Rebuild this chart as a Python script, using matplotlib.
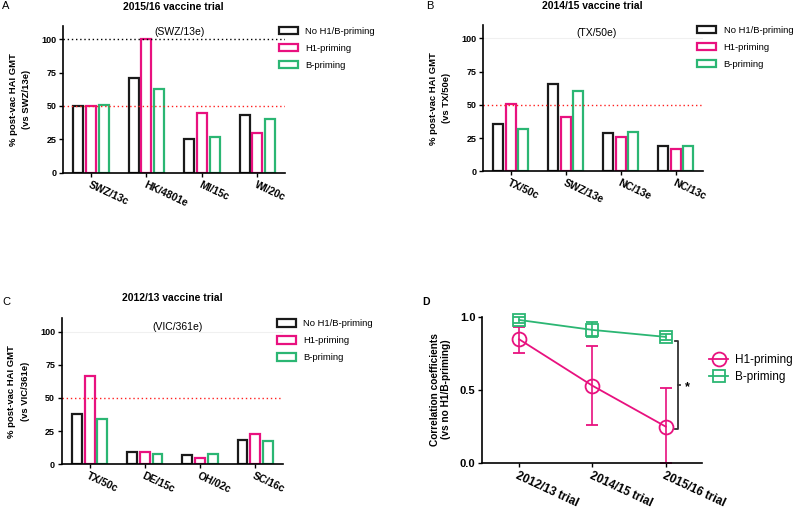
import numpy as np
import matplotlib
matplotlib.use("Agg")
from matplotlib import pyplot as plt
from matplotlib.patches import Patch
from matplotlib.lines import Line2D

plt.rcParams['font.family'] = ['Liberation Sans', 'DejaVu Sans']

# colori
c_no = "#1a1a1a"
c_h1 = "#e8117f"
c_b = "#2bb673"

series = ["No H1/B-priming", "H1-priming", "B-priming"]

# pannello A 2015/16
strainsA = ["SWZ/13c", "HK/4801e", "MI/15c", "WI/20c"]
noA = [50, 71, 25, 43]
h1A = [50, 100, 44.5, 29.5]
bA = [51, 62.5, 26.5, 40]

# pannello B 2014/15
strainsB = ["TX/50c", "SWZ/13e", "NC/13e", "NC/13c"]
noB = [35.5, 65.5, 28.5, 19.3]
h1B = [50.3, 40.5, 25.5, 16.5]
bB = [31.5, 60.5, 29.3, 19.3]

# pannello C 2012/13
strainsC = ["TX/50c", "DE/15c", "OH/02c", "SC/16c"]
noC = [38.2, 9, 7, 18]
h1C = [66.3, 9, 5, 22.5]
bC = [34.4, 8, 8, 17.3]

# pannello D
trials = ["2012/13 trial", "2014/15 trial", "2015/16 trial"]
h1_r = [0.845, 0.527, 0.247]
h1_lo = [0.75, 0.258, 0.0]
h1_hi = [0.93, 0.80, 0.514]
b_r = [0.977, 0.909, 0.861]
b_lo = [0.955, 0.86, 0.84]
b_hi = [0.995, 0.96, 0.88]

fig = plt.figure(figsize=(8, 5.09), dpi=100)


def bar_panel(rect, strains, no, h1, b, ylab, ref, ref_xy, black100):
    ax = fig.add_axes(rect)
    x = np.arange(len(strains))
    w = 0.18
    off = 0.23
    for vals, dx, col in [(no, -off, c_no), (h1, 0, c_h1), (b, off, c_b)]:
        ax.bar(x + dx, vals, w, facecolor="white", edgecolor=col, linewidth=1.6)
    ax.axhline(50, color="#ff2020", ls=(0, (1, 2)), lw=1)
    if black100:
        ax.axhline(100, color="black", ls=(0, (1, 2)), lw=1)
    else:
        ax.axhline(100, color="#f0f0f0", lw=0.8, zorder=0)
    ax.set_xlim(-0.5, 3.5)
    ax.set_ylim(0, 110)
    ax.set_yticks([0, 25, 50, 75, 100])
    ax.set_xticks(x)
    ax.set_xticklabels(strains, rotation=-25, ha="left", va="top",
                       rotation_mode="anchor", fontsize=7.5, fontweight="bold")
    for t in ax.get_yticklabels():
        t.set_fontweight("bold")
        t.set_fontsize(6.5)
    ax.tick_params(length=3, width=1, pad=2)
    ax.spines["top"].set_visible(False)
    ax.spines["right"].set_visible(False)
    ax.spines["left"].set_linewidth(1.2)
    ax.spines["bottom"].set_linewidth(1.2)
    ax.set_ylabel(ylab, fontsize=6.8, fontweight="bold", labelpad=7, linespacing=1.7)
    ax.text(ref_xy[0], ref_xy[1], ref, ha="center", va="center", fontsize=7.5)
    handles = [Patch(facecolor="white", edgecolor=c, linewidth=1.6, label=s)
               for c, s in zip([c_no, c_h1, c_b], series)]
    ax.legend(handles=handles, loc="upper left", bbox_to_anchor=(0.955, 1.02),
              frameon=False, fontsize=6.8, handlelength=2.0, handleheight=0.8,
              labelspacing=0.85, handletextpad=0.8, borderaxespad=0)
    return ax


bar_panel([0.079, 0.661, 0.2775, 0.288], strainsA, noA, h1A, bA,
          "% post-vac HAI GMT\n(vs SWZ/13e)", "(SWZ/13e)", (1.6, 105.5), True)
bar_panel([0.604, 0.6635, 0.275, 0.2875], strainsB, noB, h1B, bB,
          "% post-vac HAI GMT\n(vs TX/50e)", "(TX/50e)", (1.57, 103.7), False)
bar_panel([0.0775, 0.088, 0.276, 0.2866], strainsC, noC, h1C, bC,
          "% post-vac HAI GMT\n(vs VIC/361e)", "(VIC/361e)", (1.59, 103.8), False)

# pannello D
axD = fig.add_axes([0.603, 0.091, 0.275, 0.287])
xd = np.arange(len(trials))
h1_err = [np.array(h1_r) - np.array(h1_lo), np.array(h1_hi) - np.array(h1_r)]
b_err = [np.array(b_r) - np.array(b_lo), np.array(b_hi) - np.array(b_r)]
axD.errorbar(xd, h1_r, yerr=h1_err, color=c_h1, marker="o", markersize=10,
             mfc="none", mew=1.3, lw=1.3, capsize=4, elinewidth=1.2, clip_on=False,
             label="H1-priming")
axD.errorbar(xd, b_r, yerr=b_err, color=c_b, marker="s", markersize=9,
             mfc="none", mew=1.3, lw=1.3, capsize=4, elinewidth=1.2, clip_on=False,
             label="B-priming")
axD.set_xlim(-0.5, 2.5)
axD.set_ylim(0, 1.0)
axD.set_yticks([0.0, 0.5, 1.0])
axD.set_yticklabels(["0.0", "0.5", "1.0"], fontsize=8, fontweight="bold")
axD.set_xticks(xd)
axD.set_xticklabels(trials, rotation=-25, ha="left", va="top",
                    rotation_mode="anchor", fontsize=8.5, fontweight="bold")
axD.tick_params(length=3, width=1, pad=2)
axD.spines["top"].set_visible(False)
axD.spines["right"].set_visible(False)
axD.spines["left"].set_linewidth(1.2)
axD.spines["bottom"].set_linewidth(1.2)
axD.set_ylabel("Correlation coefficients\n(vs no H1/B-priming)", fontsize=7.3,
               fontweight="bold", labelpad=6)
# parentesi significativita
bx = 2.17
axD.plot([bx - 0.04, bx, bx, bx - 0.04], [0.836, 0.836, 0.228, 0.228],
         color="#333333", lw=1.3, clip_on=False)
axD.plot([bx, bx + 0.03], [0.532, 0.532], color="#333333", lw=1.3, clip_on=False)
axD.text(bx + 0.13, 0.52, "*", ha="center", va="center", fontsize=9, fontweight="bold")
handlesD = [Line2D([], [], color=c_h1, marker="o", mfc="none", markersize=10, mew=1.3, lw=1.3),
            Line2D([], [], color=c_b, marker="s", mfc="none", markersize=9, mew=1.3, lw=1.3)]
axD.legend(handlesD, ["H1-priming", "B-priming"], loc="center left",
           bbox_to_anchor=(1.01, 0.645), frameon=False, fontsize=8.5,
           handlelength=1.6, labelspacing=0.4, handletextpad=0.6, borderaxespad=0)

# titoli e lettere
fig.text(0.217, 0.987, "2015/16 vaccine trial", ha="center", va="center",
         fontsize=7.5, fontweight="bold")
fig.text(0.741, 0.989, "2014/15 vaccine trial", ha="center", va="center",
         fontsize=7.5, fontweight="bold")
fig.text(0.215, 0.414, "2012/13 vaccine trial", ha="center", va="center",
         fontsize=7.5, fontweight="bold")
fig.text(0.003, 0.988, "A", ha="left", va="center", fontsize=8)
fig.text(0.533, 0.988, "B", ha="left", va="center", fontsize=8)
fig.text(0.003, 0.407, "C", ha="left", va="center", fontsize=8)
fig.text(0.528, 0.407, "D", ha="left", va="center", fontsize=7.5, fontweight="bold")

fig.savefig("out.png", dpi=100, facecolor="white")
